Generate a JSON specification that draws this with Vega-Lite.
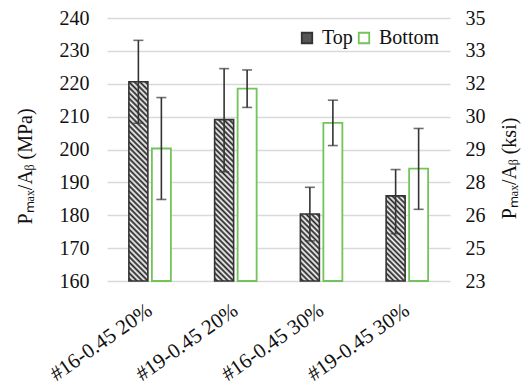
{
  "$schema": "https://vega.github.io/schema/vega-lite/v6.json",
  "width": 343,
  "height": 263,
  "autosize": {"type": "none"},
  "padding": {"left": 107, "top": 18, "right": 73, "bottom": 109},
  "background": "white",
  "config": {
    "view": {"stroke": null},
    "font": "Liberation Serif, Times New Roman, serif",
    "axis": {
      "labelFont": "Liberation Serif, Times New Roman, serif",
      "titleFont": "Liberation Serif, Times New Roman, serif",
      "labelColor": "#111111",
      "titleColor": "#111111",
      "labelFontSize": 20,
      "titleFontSize": 20,
      "titleFontWeight": "normal",
      "labelOverlap": false,
      "domain": false,
      "ticks": false
    },
    "legend": {
      "labelFont": "Liberation Serif, Times New Roman, serif",
      "labelFontSize": 20,
      "labelColor": "#111111"
    }
  },
  "data": {
    "values": [
      {"g": "#16-0.45 20%", "pos": "Top", "v": 220.6, "lo": 208.0, "hi": 233.2},
      {"g": "#16-0.45 20%", "pos": "Bottom", "v": 200.3, "lo": 184.8, "hi": 215.8},
      {"g": "#19-0.45 20%", "pos": "Top", "v": 209.1, "lo": 193.2, "hi": 224.6},
      {"g": "#19-0.45 20%", "pos": "Bottom", "v": 218.5, "lo": 212.8, "hi": 224.2},
      {"g": "#16-0.45 30%", "pos": "Top", "v": 180.4, "lo": 172.2, "hi": 188.5},
      {"g": "#16-0.45 30%", "pos": "Bottom", "v": 208.1, "lo": 201.2, "hi": 215.0},
      {"g": "#19-0.45 30%", "pos": "Top", "v": 185.9, "lo": 174.4, "hi": 193.9},
      {"g": "#19-0.45 30%", "pos": "Bottom", "v": 194.2, "lo": 181.8, "hi": 206.4}
    ]
  },
  "layer": [
    {
      "mark": {"type": "point", "opacity": 0},
      "encoding": {
        "y": {"field": "v", "type": "quantitative", "scale": {"domain": [160, 240], "nice": false, "zero": false}, "axis": {"orient": "left", "title": "Pₘₐₓ/Aᵦ (MPa)", "values": [160, 170, 180, 190, 200, 210, 220, 230, 240], "grid": true, "gridColor": "#d9d9d9", "gridWidth": 1.5, "labelPadding": 18, "titlePadding": 24, "titleY": 148}}
      }
    },
    {
      "layer": [
        {
          "transform": [{"filter": "datum.pos === 'Bottom'"}],
          "mark": {"type": "bar", "strokeWidth": 1.8, "fillOpacity": 1},
          "encoding": {
            "x": {"field": "g", "type": "nominal", "sort": ["#16-0.45 20%", "#19-0.45 20%", "#16-0.45 30%", "#19-0.45 30%"], "scale": {"paddingInner": 0, "paddingOuter": 0}, "axis": {"title": null, "labelAngle": -35, "labelPadding": 18, "labelOffset": -6, "labelLimit": 0, "labelFontSize": 21}},
            "xOffset": {"field": "pos", "type": "nominal", "scale": {"domain": ["Top", "Bottom"], "paddingInner": 0.174, "paddingOuter": 0.951}},
            "y": {"field": "v", "type": "quantitative", "scale": {"domain": [160, 240], "nice": false, "zero": false}, "axis": null},
            "y2": {"datum": 160},
            "fill": {"field": "pos", "type": "nominal", "scale": {"domain": ["Top", "Bottom"], "range": ["#555555", "#ffffff"]}, "legend": {"title": null, "orient": "none", "legendX": 190, "legendY": 10, "direction": "horizontal", "symbolType": "square", "symbolSize": 110, "symbolStrokeWidth": 1.8, "labelOffset": 5, "columnPadding": 1, "padding": 0}},
            "stroke": {"field": "pos", "type": "nominal", "scale": {"domain": ["Top", "Bottom"], "range": ["#333333", "#72c35a"]}, "legend": {"title": null, "orient": "none", "legendX": 190, "legendY": 10, "direction": "horizontal", "symbolType": "square", "symbolSize": 110, "symbolStrokeWidth": 1.8, "labelOffset": 5, "columnPadding": 1, "padding": 0}}
          }
        },
        {
          "transform": [{"filter": "datum.pos === 'Top' && datum.g === '#16-0.45 20%'"}],
          "mark": {"type": "bar", "strokeWidth": 1.6, "fill": {"gradient": "linear", "x1": 0, "y1": 1, "x2": 0.1036, "y2": -0.0856, "stops": [
            {"offset": 0, "color": "#ffffff"}, {"offset": 0.0125, "color": "#1e1e1e"}, {"offset": 0.025, "color": "#ffffff"}, {"offset": 0.0375, "color": "#1e1e1e"}, {"offset": 0.05, "color": "#ffffff"}, {"offset": 0.0625, "color": "#1e1e1e"}, {"offset": 0.075, "color": "#ffffff"}, {"offset": 0.0875, "color": "#1e1e1e"}, {"offset": 0.1, "color": "#ffffff"}, {"offset": 0.1125, "color": "#1e1e1e"}, {"offset": 0.125, "color": "#ffffff"}, {"offset": 0.1375, "color": "#1e1e1e"}, {"offset": 0.15, "color": "#ffffff"}, {"offset": 0.1625, "color": "#1e1e1e"}, {"offset": 0.175, "color": "#ffffff"}, {"offset": 0.1875, "color": "#1e1e1e"}, {"offset": 0.2, "color": "#ffffff"}, {"offset": 0.2125, "color": "#1e1e1e"}, {"offset": 0.225, "color": "#ffffff"}, {"offset": 0.2375, "color": "#1e1e1e"}, {"offset": 0.25, "color": "#ffffff"}, {"offset": 0.2625, "color": "#1e1e1e"}, {"offset": 0.275, "color": "#ffffff"}, {"offset": 0.2875, "color": "#1e1e1e"}, {"offset": 0.3, "color": "#ffffff"}, {"offset": 0.3125, "color": "#1e1e1e"}, {"offset": 0.325, "color": "#ffffff"}, {"offset": 0.3375, "color": "#1e1e1e"}, {"offset": 0.35, "color": "#ffffff"}, {"offset": 0.3625, "color": "#1e1e1e"}, {"offset": 0.375, "color": "#ffffff"}, {"offset": 0.3875, "color": "#1e1e1e"}, {"offset": 0.4, "color": "#ffffff"}, {"offset": 0.4125, "color": "#1e1e1e"}, {"offset": 0.425, "color": "#ffffff"}, {"offset": 0.4375, "color": "#1e1e1e"}, {"offset": 0.45, "color": "#ffffff"}, {"offset": 0.4625, "color": "#1e1e1e"}, {"offset": 0.475, "color": "#ffffff"}, {"offset": 0.4875, "color": "#1e1e1e"}, {"offset": 0.5, "color": "#ffffff"}, {"offset": 0.5125, "color": "#1e1e1e"}, {"offset": 0.525, "color": "#ffffff"}, {"offset": 0.5375, "color": "#1e1e1e"}, {"offset": 0.55, "color": "#ffffff"}, {"offset": 0.5625, "color": "#1e1e1e"}, {"offset": 0.575, "color": "#ffffff"}, {"offset": 0.5875, "color": "#1e1e1e"}, {"offset": 0.6, "color": "#ffffff"}, {"offset": 0.6125, "color": "#1e1e1e"}, {"offset": 0.625, "color": "#ffffff"}, {"offset": 0.6375, "color": "#1e1e1e"}, {"offset": 0.65, "color": "#ffffff"}, {"offset": 0.6625, "color": "#1e1e1e"}, {"offset": 0.675, "color": "#ffffff"}, {"offset": 0.6875, "color": "#1e1e1e"}, {"offset": 0.7, "color": "#ffffff"}, {"offset": 0.7125, "color": "#1e1e1e"}, {"offset": 0.725, "color": "#ffffff"}, {"offset": 0.7375, "color": "#1e1e1e"}, {"offset": 0.75, "color": "#ffffff"}, {"offset": 0.7625, "color": "#1e1e1e"}, {"offset": 0.775, "color": "#ffffff"}, {"offset": 0.7875, "color": "#1e1e1e"}, {"offset": 0.8, "color": "#ffffff"}, {"offset": 0.8125, "color": "#1e1e1e"}, {"offset": 0.825, "color": "#ffffff"}, {"offset": 0.8375, "color": "#1e1e1e"}, {"offset": 0.85, "color": "#ffffff"}, {"offset": 0.8625, "color": "#1e1e1e"}, {"offset": 0.875, "color": "#ffffff"}, {"offset": 0.8875, "color": "#1e1e1e"}, {"offset": 0.9, "color": "#ffffff"}, {"offset": 0.9125, "color": "#1e1e1e"}, {"offset": 0.925, "color": "#ffffff"}, {"offset": 0.9375, "color": "#1e1e1e"}, {"offset": 0.95, "color": "#ffffff"}, {"offset": 0.9625, "color": "#1e1e1e"}, {"offset": 0.975, "color": "#ffffff"}, {"offset": 0.9875, "color": "#1e1e1e"}, {"offset": 1, "color": "#ffffff"}
          ]}},
          "encoding": {
            "x": {"field": "g", "type": "nominal", "sort": ["#16-0.45 20%", "#19-0.45 20%", "#16-0.45 30%", "#19-0.45 30%"]},
            "xOffset": {"field": "pos", "type": "nominal", "scale": {"domain": ["Top", "Bottom"]}},
            "y": {"field": "v", "type": "quantitative", "axis": null},
            "y2": {"datum": 160},
            "stroke": {"field": "pos", "type": "nominal", "legend": null}
          }
        },
        {
          "transform": [{"filter": "datum.pos === 'Top' && datum.g === '#19-0.45 20%'"}],
          "mark": {"type": "bar", "strokeWidth": 1.6, "fill": {"gradient": "linear", "x1": 0, "y1": 1, "x2": 0.13, "y2": -0.1026, "stops": [
            {"offset": 0, "color": "#ffffff"}, {"offset": 0.015, "color": "#1e1e1e"}, {"offset": 0.03, "color": "#ffffff"}, {"offset": 0.045, "color": "#1e1e1e"}, {"offset": 0.06, "color": "#ffffff"}, {"offset": 0.075, "color": "#1e1e1e"}, {"offset": 0.09, "color": "#ffffff"}, {"offset": 0.105, "color": "#1e1e1e"}, {"offset": 0.12, "color": "#ffffff"}, {"offset": 0.135, "color": "#1e1e1e"}, {"offset": 0.15, "color": "#ffffff"}, {"offset": 0.165, "color": "#1e1e1e"}, {"offset": 0.18, "color": "#ffffff"}, {"offset": 0.195, "color": "#1e1e1e"}, {"offset": 0.21, "color": "#ffffff"}, {"offset": 0.225, "color": "#1e1e1e"}, {"offset": 0.24, "color": "#ffffff"}, {"offset": 0.255, "color": "#1e1e1e"}, {"offset": 0.27, "color": "#ffffff"}, {"offset": 0.285, "color": "#1e1e1e"}, {"offset": 0.3, "color": "#ffffff"}, {"offset": 0.315, "color": "#1e1e1e"}, {"offset": 0.33, "color": "#ffffff"}, {"offset": 0.345, "color": "#1e1e1e"}, {"offset": 0.36, "color": "#ffffff"}, {"offset": 0.375, "color": "#1e1e1e"}, {"offset": 0.39, "color": "#ffffff"}, {"offset": 0.405, "color": "#1e1e1e"}, {"offset": 0.42, "color": "#ffffff"}, {"offset": 0.435, "color": "#1e1e1e"}, {"offset": 0.45, "color": "#ffffff"}, {"offset": 0.465, "color": "#1e1e1e"}, {"offset": 0.48, "color": "#ffffff"}, {"offset": 0.495, "color": "#1e1e1e"}, {"offset": 0.51, "color": "#ffffff"}, {"offset": 0.525, "color": "#1e1e1e"}, {"offset": 0.54, "color": "#ffffff"}, {"offset": 0.555, "color": "#1e1e1e"}, {"offset": 0.57, "color": "#ffffff"}, {"offset": 0.585, "color": "#1e1e1e"}, {"offset": 0.6, "color": "#ffffff"}, {"offset": 0.615, "color": "#1e1e1e"}, {"offset": 0.63, "color": "#ffffff"}, {"offset": 0.645, "color": "#1e1e1e"}, {"offset": 0.66, "color": "#ffffff"}, {"offset": 0.675, "color": "#1e1e1e"}, {"offset": 0.69, "color": "#ffffff"}, {"offset": 0.705, "color": "#1e1e1e"}, {"offset": 0.72, "color": "#ffffff"}, {"offset": 0.735, "color": "#1e1e1e"}, {"offset": 0.75, "color": "#ffffff"}, {"offset": 0.765, "color": "#1e1e1e"}, {"offset": 0.78, "color": "#ffffff"}, {"offset": 0.795, "color": "#1e1e1e"}, {"offset": 0.81, "color": "#ffffff"}, {"offset": 0.825, "color": "#1e1e1e"}, {"offset": 0.84, "color": "#ffffff"}, {"offset": 0.855, "color": "#1e1e1e"}, {"offset": 0.87, "color": "#ffffff"}, {"offset": 0.885, "color": "#1e1e1e"}, {"offset": 0.9, "color": "#ffffff"}, {"offset": 0.915, "color": "#1e1e1e"}, {"offset": 0.93, "color": "#ffffff"}, {"offset": 0.945, "color": "#1e1e1e"}, {"offset": 0.96, "color": "#ffffff"}, {"offset": 0.975, "color": "#1e1e1e"}, {"offset": 0.99, "color": "#ffffff"}, {"offset": 1, "color": "#ffffff"}
          ]}},
          "encoding": {
            "x": {"field": "g", "type": "nominal", "sort": ["#16-0.45 20%", "#19-0.45 20%", "#16-0.45 30%", "#19-0.45 30%"]},
            "xOffset": {"field": "pos", "type": "nominal", "scale": {"domain": ["Top", "Bottom"]}},
            "y": {"field": "v", "type": "quantitative", "axis": null},
            "y2": {"datum": 160},
            "stroke": {"field": "pos", "type": "nominal", "legend": null}
          }
        },
        {
          "transform": [{"filter": "datum.pos === 'Top' && datum.g === '#16-0.45 30%'"}],
          "mark": {"type": "bar", "strokeWidth": 1.6, "fill": {"gradient": "linear", "x1": 0, "y1": 1, "x2": 0.3369, "y2": -0.188, "stops": [
            {"offset": 0, "color": "#ffffff"}, {"offset": 0.03125, "color": "#1e1e1e"}, {"offset": 0.0625, "color": "#ffffff"}, {"offset": 0.09375, "color": "#1e1e1e"}, {"offset": 0.125, "color": "#ffffff"}, {"offset": 0.15625, "color": "#1e1e1e"}, {"offset": 0.1875, "color": "#ffffff"}, {"offset": 0.21875, "color": "#1e1e1e"}, {"offset": 0.25, "color": "#ffffff"}, {"offset": 0.28125, "color": "#1e1e1e"}, {"offset": 0.3125, "color": "#ffffff"}, {"offset": 0.34375, "color": "#1e1e1e"}, {"offset": 0.375, "color": "#ffffff"}, {"offset": 0.40625, "color": "#1e1e1e"}, {"offset": 0.4375, "color": "#ffffff"}, {"offset": 0.46875, "color": "#1e1e1e"}, {"offset": 0.5, "color": "#ffffff"}, {"offset": 0.53125, "color": "#1e1e1e"}, {"offset": 0.5625, "color": "#ffffff"}, {"offset": 0.59375, "color": "#1e1e1e"}, {"offset": 0.625, "color": "#ffffff"}, {"offset": 0.65625, "color": "#1e1e1e"}, {"offset": 0.6875, "color": "#ffffff"}, {"offset": 0.71875, "color": "#1e1e1e"}, {"offset": 0.75, "color": "#ffffff"}, {"offset": 0.78125, "color": "#1e1e1e"}, {"offset": 0.8125, "color": "#ffffff"}, {"offset": 0.84375, "color": "#1e1e1e"}, {"offset": 0.875, "color": "#ffffff"}, {"offset": 0.90625, "color": "#1e1e1e"}, {"offset": 0.9375, "color": "#ffffff"}, {"offset": 0.96875, "color": "#1e1e1e"}, {"offset": 1, "color": "#ffffff"}
          ]}},
          "encoding": {
            "x": {"field": "g", "type": "nominal", "sort": ["#16-0.45 20%", "#19-0.45 20%", "#16-0.45 30%", "#19-0.45 30%"]},
            "xOffset": {"field": "pos", "type": "nominal", "scale": {"domain": ["Top", "Bottom"]}},
            "y": {"field": "v", "type": "quantitative", "axis": null},
            "y2": {"datum": 160},
            "stroke": {"field": "pos", "type": "nominal", "legend": null}
          }
        },
        {
          "transform": [{"filter": "datum.pos === 'Top' && datum.g === '#19-0.45 30%'"}],
          "mark": {"type": "bar", "strokeWidth": 1.6, "fill": {"gradient": "linear", "x1": 0, "y1": 1, "x2": 0.2601, "y2": -0.1652, "stops": [
            {"offset": 0, "color": "#ffffff"}, {"offset": 0.025, "color": "#1e1e1e"}, {"offset": 0.05, "color": "#ffffff"}, {"offset": 0.075, "color": "#1e1e1e"}, {"offset": 0.1, "color": "#ffffff"}, {"offset": 0.125, "color": "#1e1e1e"}, {"offset": 0.15, "color": "#ffffff"}, {"offset": 0.175, "color": "#1e1e1e"}, {"offset": 0.2, "color": "#ffffff"}, {"offset": 0.225, "color": "#1e1e1e"}, {"offset": 0.25, "color": "#ffffff"}, {"offset": 0.275, "color": "#1e1e1e"}, {"offset": 0.3, "color": "#ffffff"}, {"offset": 0.325, "color": "#1e1e1e"}, {"offset": 0.35, "color": "#ffffff"}, {"offset": 0.375, "color": "#1e1e1e"}, {"offset": 0.4, "color": "#ffffff"}, {"offset": 0.425, "color": "#1e1e1e"}, {"offset": 0.45, "color": "#ffffff"}, {"offset": 0.475, "color": "#1e1e1e"}, {"offset": 0.5, "color": "#ffffff"}, {"offset": 0.525, "color": "#1e1e1e"}, {"offset": 0.55, "color": "#ffffff"}, {"offset": 0.575, "color": "#1e1e1e"}, {"offset": 0.6, "color": "#ffffff"}, {"offset": 0.625, "color": "#1e1e1e"}, {"offset": 0.65, "color": "#ffffff"}, {"offset": 0.675, "color": "#1e1e1e"}, {"offset": 0.7, "color": "#ffffff"}, {"offset": 0.725, "color": "#1e1e1e"}, {"offset": 0.75, "color": "#ffffff"}, {"offset": 0.775, "color": "#1e1e1e"}, {"offset": 0.8, "color": "#ffffff"}, {"offset": 0.825, "color": "#1e1e1e"}, {"offset": 0.85, "color": "#ffffff"}, {"offset": 0.875, "color": "#1e1e1e"}, {"offset": 0.9, "color": "#ffffff"}, {"offset": 0.925, "color": "#1e1e1e"}, {"offset": 0.95, "color": "#ffffff"}, {"offset": 0.975, "color": "#1e1e1e"}, {"offset": 1, "color": "#ffffff"}
          ]}},
          "encoding": {
            "x": {"field": "g", "type": "nominal", "sort": ["#16-0.45 20%", "#19-0.45 20%", "#16-0.45 30%", "#19-0.45 30%"]},
            "xOffset": {"field": "pos", "type": "nominal", "scale": {"domain": ["Top", "Bottom"]}},
            "y": {"field": "v", "type": "quantitative", "axis": null},
            "y2": {"datum": 160},
            "stroke": {"field": "pos", "type": "nominal", "legend": null}
          }
        },
        {
          "mark": {"type": "rule", "color": "#333333", "strokeWidth": 1.6},
          "encoding": {
            "x": {"field": "g", "type": "nominal", "sort": ["#16-0.45 20%", "#19-0.45 20%", "#16-0.45 30%", "#19-0.45 30%"]},
            "xOffset": {"field": "pos", "type": "nominal", "scale": {"domain": ["Top", "Bottom"]}},
            "y": {"field": "lo", "type": "quantitative", "axis": null},
            "y2": {"field": "hi"}
          }
        },
        {
          "mark": {"type": "tick", "color": "#333333", "thickness": 1.6, "size": 10},
          "encoding": {
            "x": {"field": "g", "type": "nominal", "sort": ["#16-0.45 20%", "#19-0.45 20%", "#16-0.45 30%", "#19-0.45 30%"]},
            "xOffset": {"field": "pos", "type": "nominal", "scale": {"domain": ["Top", "Bottom"]}},
            "y": {"field": "hi", "type": "quantitative", "axis": null}
          }
        },
        {
          "mark": {"type": "tick", "color": "#333333", "thickness": 1.6, "size": 10},
          "encoding": {
            "x": {"field": "g", "type": "nominal", "sort": ["#16-0.45 20%", "#19-0.45 20%", "#16-0.45 30%", "#19-0.45 30%"]},
            "xOffset": {"field": "pos", "type": "nominal", "scale": {"domain": ["Top", "Bottom"]}},
            "y": {"field": "lo", "type": "quantitative", "axis": null}
          }
        }
      ]
    },
    {
      "mark": {"type": "point", "opacity": 0},
      "encoding": {
        "y": {"field": "v", "type": "quantitative", "scale": {"domain": [160, 240], "nice": false, "zero": false}, "axis": {"orient": "right", "values": [160, 170, 180, 190, 200, 210, 220, 230, 240], "labelExpr": "format(datum.value * 0.145038, '.0f')", "title": "Pₘₐₓ/Aᵦ (ksi)", "titleAngle": -90, "grid": false, "labelPadding": 15, "titlePadding": 34, "titleY": 150}}
      }
    }
  ],
  "resolve": {"scale": {"y": "independent"}}
}
